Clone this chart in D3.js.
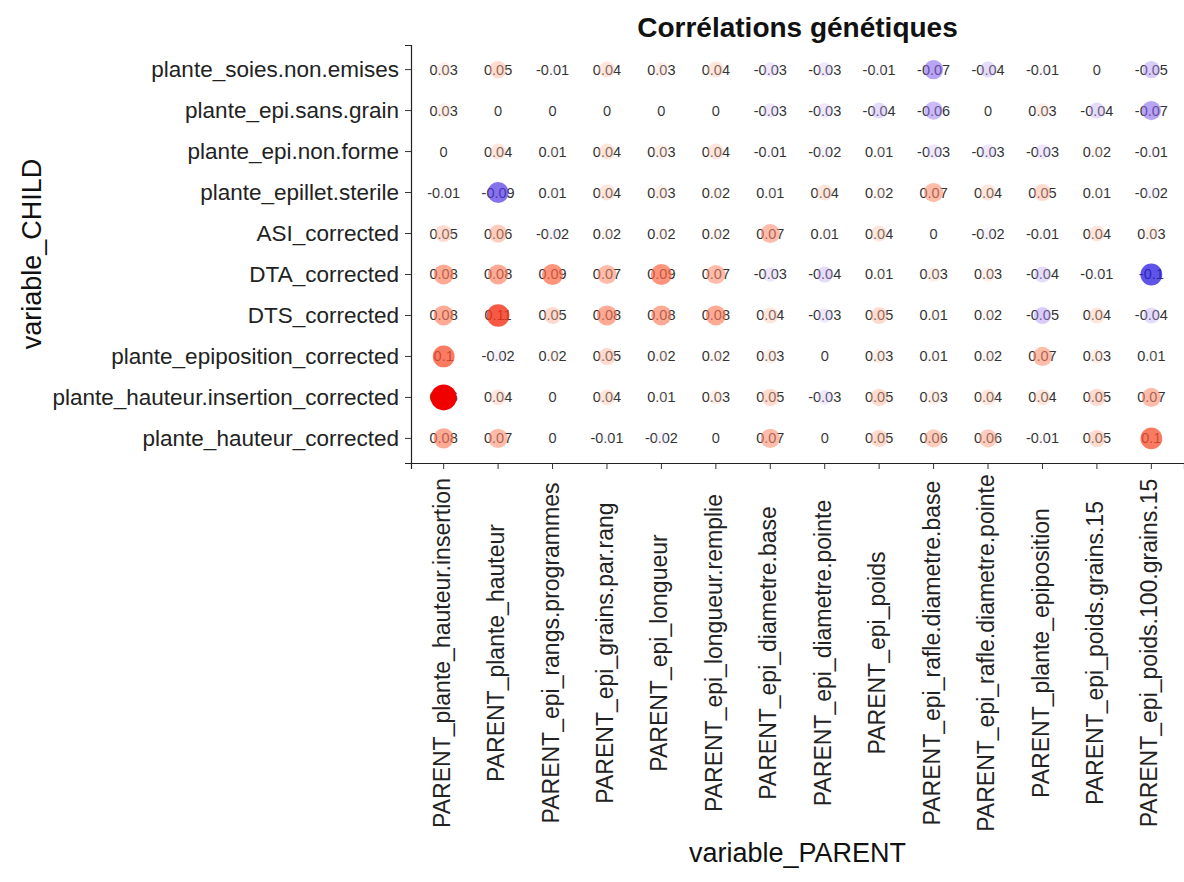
<!DOCTYPE html>
<html>
<head>
<meta charset="utf-8">
<script src="https://cdn.jsdelivr.net/npm/d3@7"></script>
<style>
  body { margin: 0; background: #fff; }
  svg text { font-family: "Liberation Sans", Arial, sans-serif; }
</style>
</head>
<body>
<div id="chart"></div>
<script>
const title = "Corrélations génétiques";

// rows, top to bottom
const children = [
  "plante_soies.non.emises",
  "plante_epi.sans.grain",
  "plante_epi.non.forme",
  "plante_epillet.sterile",
  "ASI_corrected",
  "DTA_corrected",
  "DTS_corrected",
  "plante_epiposition_corrected",
  "plante_hauteur.insertion_corrected",
  "plante_hauteur_corrected"
];

const parents = [
  "PARENT_plante_hauteur.insertion",
  "PARENT_plante_hauteur",
  "PARENT_epi_rangs.programmes",
  "PARENT_epi_grains.par.rang",
  "PARENT_epi_longueur",
  "PARENT_epi_longueur.remplie",
  "PARENT_epi_diametre.base",
  "PARENT_epi_diametre.pointe",
  "PARENT_epi_poids",
  "PARENT_epi_rafle.diametre.base",
  "PARENT_epi_rafle.diametre.pointe",
  "PARENT_plante_epiposition",
  "PARENT_epi_poids.grains.15",
  "PARENT_epi_poids.100.grains.15"
];

// one row per child, columns in parents order
const corr = [
  [0.03, 0.05, -0.01, 0.04, 0.03, 0.04, -0.03, -0.03, -0.01, -0.07, -0.04, -0.01, 0, -0.05],
  [0.03, 0, 0, 0, 0, 0, -0.03, -0.03, -0.04, -0.06, 0, 0.03, -0.04, -0.07],
  [0, 0.04, 0.01, 0.04, 0.03, 0.04, -0.01, -0.02, 0.01, -0.03, -0.03, -0.03, 0.02, -0.01],
  [-0.01, -0.09, 0.01, 0.04, 0.03, 0.02, 0.01, 0.04, 0.02, 0.07, 0.04, 0.05, 0.01, -0.02],
  [0.05, 0.06, -0.02, 0.02, 0.02, 0.02, 0.07, 0.01, 0.04, 0, -0.02, -0.01, 0.04, 0.03],
  [0.08, 0.08, 0.09, 0.07, 0.09, 0.07, -0.03, -0.04, 0.01, 0.03, 0.03, -0.04, -0.01, -0.1],
  [0.08, 0.11, 0.05, 0.08, 0.08, 0.08, 0.04, -0.03, 0.05, 0.01, 0.02, -0.05, 0.04, -0.04],
  [0.1, -0.02, 0.02, 0.05, 0.02, 0.02, 0.03, 0, 0.03, 0.01, 0.02, 0.07, 0.03, 0.01],
  [0.16, 0.04, 0, 0.04, 0.01, 0.03, 0.05, -0.03, 0.05, 0.03, 0.04, 0.04, 0.05, 0.07],
  [0.08, 0.07, 0, -0.01, -0.02, 0, 0.07, 0, 0.05, 0.06, 0.06, -0.01, 0.05, 0.1]
];

const width = 1184;
const height = 882;
const margin = { top: 45, left: 411, bottom: 419, right: 0 };

const cells = [];
children.forEach((c, i) => {
  parents.forEach((p, j) => {
    cells.push({ child: c, parent: p, value: corr[i][j] });
  });
});

const svg = d3
  .select("#chart")
  .append("svg")
  .attr("width", width)
  .attr("height", height);

const x = d3
  .scaleBand()
  .domain(parents)
  .range([margin.left, width - margin.right])
  .paddingOuter(0.1);

const y = d3
  .scaleBand()
  .domain(children)
  .range([margin.top, height - margin.bottom])
  .paddingOuter(0.1);

const maxAbs = d3.max(cells, (d) => Math.abs(d.value));

const color = d3
  .scaleLinear()
  .domain([-0.1, 0, 0.12])
  .range(["#2a1fe0", "#ffffff", "#f00000"])
  .interpolate(d3.interpolateLab)
  .clamp(true);

const opacity = d3
  .scaleLinear()
  .domain([0, 0.14])
  .range([0.15, 1])
  .clamp(true);

const radius = d3.scaleSqrt().domain([0, maxAbs]).range([3, 13]);

const cx = (d) => x(d.parent) + x.bandwidth() / 2;
const cy = (d) => y(d.child) + y.bandwidth() / 2;

// value labels first, circles drawn over them
svg
  .append("g")
  .selectAll("text")
  .data(cells)
  .enter()
  .append("text")
  .attr("x", cx)
  .attr("y", cy)
  .attr("text-anchor", "middle")
  .attr("dominant-baseline", "central")
  .style("font-size", "14.5px")
  .style("fill", "#333")
  .text((d) => d.value);

svg
  .append("g")
  .selectAll("circle")
  .data(cells)
  .enter()
  .append("circle")
  .attr("cx", cx)
  .attr("cy", cy)
  .attr("r", (d) => radius(Math.abs(d.value)))
  .style("fill", (d) => color(d.value))
  .style("fill-opacity", (d) => opacity(Math.abs(d.value)));

const xAxis = svg
  .append("g")
  .attr("transform", `translate(0,${height - margin.bottom})`)
  .call(d3.axisBottom(x).tickSizeOuter(0).tickSize(6).tickPadding(4));

xAxis.select(".domain").attr("stroke", "#222").attr("stroke-width", 1.2);
xAxis.selectAll(".tick line").attr("stroke", "#333");
xAxis
  .selectAll(".tick text")
  .attr("transform", "translate(-2,190) rotate(-90)")
  .attr("x", 0)
  .attr("y", 0)
  .attr("dy", "0.35em")
  .attr("text-anchor", "middle")
  .style("font-size", "23px")
  .style("fill", "#222");

const yAxis = svg
  .append("g")
  .attr("transform", `translate(${margin.left},0)`)
  .call(d3.axisLeft(y).tickSizeOuter(0).tickSize(6).tickPadding(6));

yAxis.select(".domain").attr("stroke", "#222").attr("stroke-width", 1.2);
yAxis.selectAll(".tick line").attr("stroke", "#333");
yAxis
  .selectAll(".tick text")
  .style("font-size", "22.5px")
  .style("fill", "#222");

svg
  .append("text")
  .attr("x", (margin.left + width - margin.right) / 2)
  .attr("y", 37)
  .attr("text-anchor", "middle")
  .style("font-size", "28px")
  .style("font-weight", "bold")
  .style("fill", "#111")
  .text(title);

svg
  .append("text")
  .attr("x", (margin.left + width - margin.right) / 2)
  .attr("y", 862)
  .attr("text-anchor", "middle")
  .style("font-size", "27px")
  .style("fill", "#111")
  .text("variable_PARENT");

svg
  .append("text")
  .attr("transform", `translate(41,${(margin.top + height - margin.bottom) / 2}) rotate(-90)`)
  .attr("text-anchor", "middle")
  .style("font-size", "27px")
  .style("fill", "#111")
  .text("variable_CHILD");
</script>
</body>
</html>
